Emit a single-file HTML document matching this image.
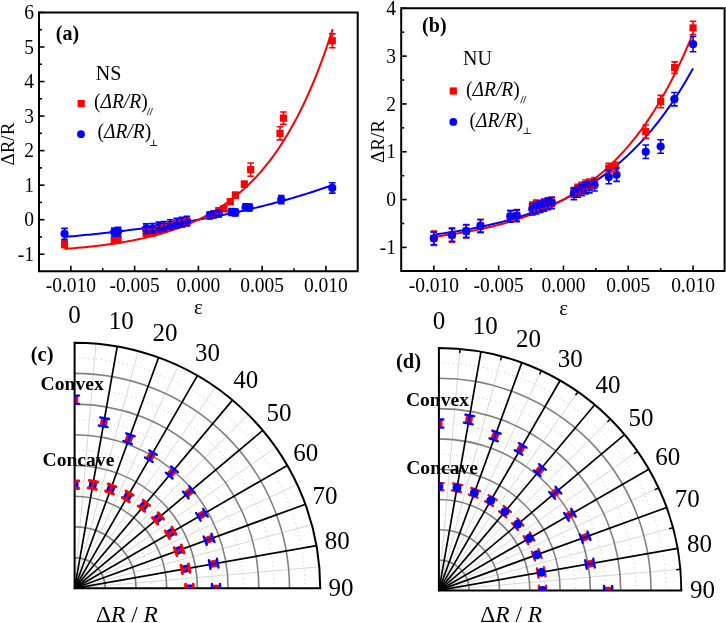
<!DOCTYPE html>
<html><head><meta charset="utf-8"><style>
html,body{margin:0;padding:0;background:#fff;width:726px;height:623px;overflow:hidden}
text{font-family:"Liberation Serif",serif}
svg{will-change:transform}
</style></head><body>
<svg width="726" height="623" viewBox="0 0 726 623" font-family="Liberation Serif" style="position:absolute;left:0;top:0">
<rect width="726" height="623" fill="#fff"/>
<g stroke="#000" stroke-width="1.6" fill="none">
<line x1="39.00" y1="254.24" x2="44.50" y2="254.24"/>
<line x1="39.00" y1="219.70" x2="44.50" y2="219.70"/>
<line x1="39.00" y1="185.16" x2="44.50" y2="185.16"/>
<line x1="39.00" y1="150.62" x2="44.50" y2="150.62"/>
<line x1="39.00" y1="116.08" x2="44.50" y2="116.08"/>
<line x1="39.00" y1="81.54" x2="44.50" y2="81.54"/>
<line x1="39.00" y1="47.00" x2="44.50" y2="47.00"/>
<line x1="39.00" y1="12.46" x2="44.50" y2="12.46"/>
<line x1="39.00" y1="236.97" x2="42.00" y2="236.97"/>
<line x1="39.00" y1="202.43" x2="42.00" y2="202.43"/>
<line x1="39.00" y1="167.89" x2="42.00" y2="167.89"/>
<line x1="39.00" y1="133.35" x2="42.00" y2="133.35"/>
<line x1="39.00" y1="98.81" x2="42.00" y2="98.81"/>
<line x1="39.00" y1="64.27" x2="42.00" y2="64.27"/>
<line x1="39.00" y1="29.73" x2="42.00" y2="29.73"/>
<line x1="70.90" y1="271.20" x2="70.90" y2="265.70"/>
<line x1="134.65" y1="271.20" x2="134.65" y2="265.70"/>
<line x1="198.40" y1="271.20" x2="198.40" y2="265.70"/>
<line x1="262.15" y1="271.20" x2="262.15" y2="265.70"/>
<line x1="325.90" y1="271.20" x2="325.90" y2="265.70"/>
<line x1="102.78" y1="271.20" x2="102.78" y2="268.20"/>
<line x1="166.53" y1="271.20" x2="166.53" y2="268.20"/>
<line x1="230.28" y1="271.20" x2="230.28" y2="268.20"/>
<line x1="294.02" y1="271.20" x2="294.02" y2="268.20"/>
<path d="M39.00 12.60H357.70V271.20H39.00Z" stroke-width="2" stroke-linejoin="miter"/>
<line x1="401.20" y1="247.43" x2="406.70" y2="247.43"/>
<line x1="401.20" y1="199.60" x2="406.70" y2="199.60"/>
<line x1="401.20" y1="151.77" x2="406.70" y2="151.77"/>
<line x1="401.20" y1="103.94" x2="406.70" y2="103.94"/>
<line x1="401.20" y1="56.11" x2="406.70" y2="56.11"/>
<line x1="401.20" y1="8.28" x2="406.70" y2="8.28"/>
<line x1="401.20" y1="223.51" x2="404.20" y2="223.51"/>
<line x1="401.20" y1="175.69" x2="404.20" y2="175.69"/>
<line x1="401.20" y1="127.85" x2="404.20" y2="127.85"/>
<line x1="401.20" y1="80.03" x2="404.20" y2="80.03"/>
<line x1="401.20" y1="32.19" x2="404.20" y2="32.19"/>
<line x1="433.85" y1="271.00" x2="433.85" y2="265.50"/>
<line x1="498.65" y1="271.00" x2="498.65" y2="265.50"/>
<line x1="563.45" y1="271.00" x2="563.45" y2="265.50"/>
<line x1="628.25" y1="271.00" x2="628.25" y2="265.50"/>
<line x1="693.05" y1="271.00" x2="693.05" y2="265.50"/>
<line x1="466.25" y1="271.00" x2="466.25" y2="268.00"/>
<line x1="531.05" y1="271.00" x2="531.05" y2="268.00"/>
<line x1="595.85" y1="271.00" x2="595.85" y2="268.00"/>
<line x1="660.65" y1="271.00" x2="660.65" y2="268.00"/>
<path d="M401.20 8.30H724.60V271.00H401.20Z" stroke-width="2" stroke-linejoin="miter"/>
</g>
<g font-size="19.5" fill="#000">
<text transform="translate(33.9,260.84) scale(1,1.07)" text-anchor="end">-1</text>
<text transform="translate(33.9,226.30) scale(1,1.07)" text-anchor="end">0</text>
<text transform="translate(33.9,191.76) scale(1,1.07)" text-anchor="end">1</text>
<text transform="translate(33.9,157.22) scale(1,1.07)" text-anchor="end">2</text>
<text transform="translate(33.9,122.68) scale(1,1.07)" text-anchor="end">3</text>
<text transform="translate(33.9,88.14) scale(1,1.07)" text-anchor="end">4</text>
<text transform="translate(33.9,53.60) scale(1,1.07)" text-anchor="end">5</text>
<text transform="translate(33.9,19.06) scale(1,1.07)" text-anchor="end">6</text>
<text transform="translate(396.0,254.03) scale(1,1.07)" text-anchor="end">-1</text>
<text transform="translate(396.0,206.20) scale(1,1.07)" text-anchor="end">0</text>
<text transform="translate(396.0,158.37) scale(1,1.07)" text-anchor="end">1</text>
<text transform="translate(396.0,110.54) scale(1,1.07)" text-anchor="end">2</text>
<text transform="translate(396.0,62.71) scale(1,1.07)" text-anchor="end">3</text>
<text transform="translate(396.0,14.88) scale(1,1.07)" text-anchor="end">4</text>
<text transform="translate(70.90,291.6) scale(1,1.07)" text-anchor="middle">-0.010</text>
<text transform="translate(433.85,291.8) scale(1,1.07)" text-anchor="middle">-0.010</text>
<text transform="translate(134.65,291.6) scale(1,1.07)" text-anchor="middle">-0.005</text>
<text transform="translate(498.65,291.8) scale(1,1.07)" text-anchor="middle">-0.005</text>
<text transform="translate(198.40,291.6) scale(1,1.07)" text-anchor="middle">0.000</text>
<text transform="translate(563.45,291.8) scale(1,1.07)" text-anchor="middle">0.000</text>
<text transform="translate(262.15,291.6) scale(1,1.07)" text-anchor="middle">0.005</text>
<text transform="translate(628.25,291.8) scale(1,1.07)" text-anchor="middle">0.005</text>
<text transform="translate(325.90,291.6) scale(1,1.07)" text-anchor="middle">0.010</text>
<text transform="translate(693.05,291.8) scale(1,1.07)" text-anchor="middle">0.010</text>
</g>
<text x="198.3" y="314.2" font-size="21" text-anchor="middle">ε</text>
<text x="563.6" y="314.8" font-size="21" text-anchor="middle">ε</text>
<text transform="translate(14.3,144.1) rotate(-90)" font-size="19" text-anchor="middle">ΔR/R</text>
<text transform="translate(383.7,141.5) rotate(-90)" font-size="19" text-anchor="middle">ΔR/R</text>
<text x="55.8" y="40.2" font-size="20" font-weight="bold">(a)</text>
<text x="422.1" y="31.6" font-size="20" font-weight="bold">(b)</text>
<text x="95.7" y="79.8" font-size="20">NS</text>
<rect x="77.60" y="100.00" width="7.2" height="7.2" fill="#ff0000"/>
<text transform="translate(94.0,107.8) scale(1,1.05)" font-size="19.5">(<tspan font-style="italic">ΔR/R</tspan>)</text>
<path d="M147.20 115.30L149.90 107.90M149.90 115.30L152.60 107.90" stroke="#333" stroke-width="0.9" fill="none"/>
<circle cx="81.00" cy="134.20" r="3.9" fill="#0000ff"/>
<text transform="translate(97.5,138.2) scale(1,1.05)" font-size="19.5">(<tspan font-style="italic">ΔR/R</tspan>)</text>
<path d="M150.20 145.50H157.20M153.70 139.60V145.50" stroke="#222" stroke-width="1" fill="none"/>
<text x="463.1" y="65.0" font-size="20">NU</text>
<rect x="449.70" y="87.40" width="7.2" height="7.2" fill="#ff0000"/>
<text transform="translate(466.1,95.6) scale(1,1.05)" font-size="19.5">(<tspan font-style="italic">ΔR/R</tspan>)</text>
<path d="M520.60 103.20L523.30 95.90M523.30 103.20L526.00 95.90" stroke="#333" stroke-width="0.9" fill="none"/>
<circle cx="453.30" cy="121.90" r="3.9" fill="#0000ff"/>
<text transform="translate(469.5,127.1) scale(1,1.05)" font-size="19.5">(<tspan font-style="italic">ΔR/R</tspan>)</text>
<path d="M523.40 133.50H530.90M527.15 127.60V133.50" stroke="#222" stroke-width="1" fill="none"/>
<polyline fill="none" stroke="#0000ff" stroke-width="2" points="64.53,236.97 66.76,236.77 68.99,236.56 71.22,236.36 73.45,236.15 75.68,235.94 77.91,235.73 80.14,235.51 82.38,235.30 84.61,235.08 86.84,234.85 89.07,234.63 91.30,234.40 93.53,234.17 95.76,233.94 97.99,233.70 100.23,233.46 102.46,233.22 104.69,232.98 106.92,232.73 109.15,232.48 111.38,232.23 113.61,231.97 115.84,231.71 118.07,231.45 120.31,231.19 122.54,230.92 124.77,230.65 127.00,230.37 129.23,230.10 131.46,229.81 133.69,229.53 135.93,229.24 138.16,228.95 140.39,228.66 142.62,228.36 144.85,228.06 147.08,227.76 149.31,227.45 151.54,227.14 153.78,226.82 156.01,226.51 158.24,226.18 160.47,225.86 162.70,225.53 164.93,225.19 167.16,224.86 169.39,224.52 171.62,224.17 173.86,223.82 176.09,223.47 178.32,223.11 180.55,222.75 182.78,222.38 185.01,222.01 187.24,221.64 189.48,221.26 191.71,220.88 193.94,220.49 196.17,220.10 198.40,219.70 200.63,219.30 202.86,218.89 205.09,218.48 207.32,218.07 209.56,217.65 211.79,217.22 214.02,216.79 216.25,216.36 218.48,215.92 220.71,215.47 222.94,215.02 225.18,214.57 227.41,214.10 229.64,213.64 231.87,213.17 234.10,212.69 236.33,212.21 238.56,211.72 240.79,211.22 243.03,210.72 245.26,210.22 247.49,209.71 249.72,209.19 251.95,208.67 254.18,208.14 256.41,207.60 258.64,207.06 260.88,206.51 263.11,205.96 265.34,205.40 267.57,204.83 269.80,204.26 272.03,203.67 274.26,203.09 276.49,202.49 278.72,201.89 280.96,201.28 283.19,200.67 285.42,200.05 287.65,199.42 289.88,198.78 292.11,198.14 294.34,197.48 296.57,196.82 298.81,196.16 301.04,195.48 303.27,194.80 305.50,194.11 307.73,193.41 309.96,192.70 312.19,191.99 314.43,191.27 316.66,190.53 318.89,189.79 321.12,189.05 323.35,188.29 325.58,187.52 327.81,186.75 330.04,185.96 332.27,185.17"/>
<polyline fill="none" stroke="#ff0000" stroke-width="2" points="64.53,248.91 66.76,248.74 68.99,248.57 71.23,248.39 73.46,248.20 75.70,248.01 77.93,247.81 80.17,247.61 82.40,247.40 84.63,247.18 86.87,246.96 89.10,246.73 91.34,246.49 93.57,246.25 95.81,245.99 98.04,245.73 100.28,245.46 102.51,245.18 104.74,244.90 106.98,244.60 109.21,244.30 111.45,243.98 113.68,243.66 115.92,243.32 118.15,242.97 120.39,242.62 122.62,242.25 124.85,241.87 127.09,241.48 129.32,241.07 131.56,240.66 133.79,240.22 136.03,239.78 138.26,239.32 140.50,238.85 142.73,238.36 144.96,237.86 147.20,237.34 149.43,236.80 151.67,236.25 153.90,235.68 156.14,235.09 158.37,234.49 160.61,233.86 162.84,233.22 165.07,232.55 167.31,231.86 169.54,231.15 171.78,230.42 174.01,229.67 176.25,228.89 178.48,228.09 180.72,227.26 182.95,226.40 185.18,225.52 187.42,224.61 189.65,223.67 191.89,222.70 194.12,221.70 196.36,220.67 198.59,219.61 200.83,218.51 203.06,217.38 205.29,216.21 207.53,215.01 209.76,213.76 212.00,212.48 214.23,211.16 216.47,209.79 218.70,208.38 220.94,206.93 223.17,205.43 225.40,203.88 227.64,202.29 229.87,200.64 232.11,198.94 234.34,197.19 236.58,195.38 238.81,193.52 241.05,191.60 243.28,189.61 245.51,187.56 247.75,185.45 249.98,183.27 252.22,181.02 254.45,178.70 256.69,176.31 258.92,173.84 261.16,171.29 263.39,168.66 265.62,165.95 267.86,163.15 270.09,160.27 272.33,157.29 274.56,154.22 276.80,151.05 279.03,147.78 281.27,144.40 283.50,140.92 285.73,137.33 287.97,133.63 290.20,129.81 292.44,125.86 294.67,121.80 296.91,117.60 299.14,113.27 301.38,108.80 303.61,104.20 305.84,99.44 308.08,94.54 310.31,89.48 312.55,84.26 314.78,78.87 317.02,73.31 319.25,67.58 321.49,61.67 323.72,55.56 325.95,49.27 328.19,42.77 330.42,36.07 332.66,29.16"/>
<polyline fill="none" stroke="#0000ff" stroke-width="2" points="433.85,234.65 436.01,234.37 438.17,234.08 440.33,233.78 442.49,233.48 444.65,233.17 446.81,232.85 448.97,232.53 451.13,232.19 453.29,231.86 455.45,231.51 457.61,231.15 459.77,230.79 461.93,230.42 464.09,230.04 466.25,229.66 468.41,229.26 470.57,228.86 472.73,228.44 474.89,228.02 477.05,227.59 479.21,227.15 481.37,226.70 483.53,226.24 485.69,225.77 487.85,225.28 490.01,224.79 492.17,224.29 494.33,223.77 496.49,223.25 498.65,222.71 500.81,222.16 502.97,221.60 505.13,221.02 507.29,220.43 509.45,219.83 511.61,219.22 513.77,218.59 515.93,217.95 518.09,217.30 520.25,216.63 522.41,215.94 524.57,215.24 526.73,214.52 528.89,213.79 531.05,213.04 533.21,212.28 535.37,211.50 537.53,210.70 539.69,209.88 541.85,209.05 544.01,208.19 546.17,207.32 548.33,206.43 550.49,205.51 552.65,204.58 554.81,203.63 556.97,202.65 559.13,201.66 561.29,200.64 563.45,199.60 565.61,198.54 567.77,197.45 569.93,196.34 572.09,195.20 574.25,194.04 576.41,192.85 578.57,191.64 580.73,190.40 582.89,189.13 585.05,187.83 587.21,186.50 589.37,185.15 591.53,183.76 593.69,182.35 595.85,180.90 598.01,179.42 600.17,177.91 602.33,176.36 604.49,174.78 606.65,173.16 608.81,171.51 610.97,169.82 613.13,168.10 615.29,166.33 617.45,164.53 619.61,162.68 621.77,160.80 623.93,158.87 626.09,156.90 628.25,154.89 630.41,152.83 632.57,150.73 634.73,148.58 636.89,146.38 639.05,144.13 641.21,141.83 643.37,139.48 645.53,137.08 647.69,134.63 649.85,132.12 652.01,129.55 654.17,126.93 656.33,124.25 658.49,121.51 660.65,118.71 662.81,115.84 664.97,112.92 667.13,109.93 669.29,106.87 671.45,103.74 673.61,100.54 675.77,97.28 677.93,93.94 680.09,90.52 682.25,87.03 684.41,83.46 686.57,79.82 688.73,76.09 690.89,72.28 693.05,68.38"/>
<polyline fill="none" stroke="#ff0000" stroke-width="2" points="433.85,236.76 436.01,236.49 438.17,236.21 440.33,235.93 442.49,235.64 444.65,235.34 446.81,235.03 448.97,234.72 451.13,234.39 453.29,234.06 455.45,233.73 457.61,233.38 459.77,233.02 461.93,232.66 464.09,232.29 466.25,231.90 468.41,231.51 470.57,231.11 472.73,230.69 474.89,230.27 477.05,229.83 479.21,229.39 481.37,228.93 483.53,228.46 485.69,227.98 487.85,227.49 490.01,226.99 492.17,226.47 494.33,225.94 496.49,225.39 498.65,224.84 500.81,224.26 502.97,223.68 505.13,223.08 507.29,222.46 509.45,221.83 511.61,221.18 513.77,220.52 515.93,219.83 518.09,219.14 520.25,218.42 522.41,217.69 524.57,216.93 526.73,216.16 528.89,215.37 531.05,214.56 533.21,213.72 535.37,212.87 537.53,212.00 539.69,211.10 541.85,210.18 544.01,209.24 546.17,208.27 548.33,207.28 550.49,206.26 552.65,205.22 554.81,204.15 556.97,203.06 559.13,201.93 561.29,200.78 563.45,199.60 565.61,198.39 567.77,197.15 569.93,195.87 572.09,194.57 574.25,193.23 576.41,191.86 578.57,190.45 580.73,189.01 582.89,187.53 585.05,186.02 587.21,184.46 589.37,182.87 591.53,181.23 593.69,179.56 595.85,177.84 598.01,176.08 600.17,174.27 602.33,172.42 604.49,170.52 606.65,168.57 608.81,166.58 610.97,164.53 613.13,162.43 615.29,160.28 617.45,158.07 619.61,155.81 621.77,153.49 623.93,151.11 626.09,148.67 628.25,146.17 630.41,143.61 632.57,140.98 634.73,138.29 636.89,135.52 639.05,132.69 641.21,129.79 643.37,126.81 645.53,123.76 647.69,120.62 649.85,117.41 652.01,114.12 654.17,110.75 656.33,107.29 658.49,103.74 660.65,100.10 662.81,96.37 664.97,92.55 667.13,88.63 669.29,84.61 671.45,80.49 673.61,76.26 675.77,71.93 677.93,67.48 680.09,62.93 682.25,58.26 684.41,53.47 686.57,48.56 688.73,43.53 690.89,38.36 693.05,33.07"/>
<rect x="60.93" y="240.62" width="7.2" height="7.2" fill="#ff0000"/>
<rect x="110.65" y="236.82" width="7.2" height="7.2" fill="#ff0000"/>
<rect x="114.48" y="236.13" width="7.2" height="7.2" fill="#ff0000"/>
<rect x="142.53" y="229.23" width="7.2" height="7.2" fill="#ff0000"/>
<rect x="148.90" y="228.88" width="7.2" height="7.2" fill="#ff0000"/>
<rect x="155.28" y="226.12" width="7.2" height="7.2" fill="#ff0000"/>
<rect x="160.38" y="224.73" width="7.2" height="7.2" fill="#ff0000"/>
<rect x="166.75" y="222.66" width="7.2" height="7.2" fill="#ff0000"/>
<rect x="173.13" y="220.94" width="7.2" height="7.2" fill="#ff0000"/>
<rect x="178.23" y="219.55" width="7.2" height="7.2" fill="#ff0000"/>
<rect x="183.33" y="218.17" width="7.2" height="7.2" fill="#ff0000"/>
<rect x="206.28" y="211.61" width="7.2" height="7.2" fill="#ff0000"/>
<rect x="210.10" y="210.57" width="7.2" height="7.2" fill="#ff0000"/>
<rect x="215.20" y="207.12" width="7.2" height="7.2" fill="#ff0000"/>
<rect x="220.30" y="205.05" width="7.2" height="7.2" fill="#ff0000"/>
<rect x="226.68" y="198.14" width="7.2" height="7.2" fill="#ff0000"/>
<rect x="231.78" y="191.58" width="7.2" height="7.2" fill="#ff0000"/>
<rect x="240.70" y="180.52" width="7.2" height="7.2" fill="#ff0000"/>
<rect x="247.08" y="166.02" width="7.2" height="7.2" fill="#ff0000"/>
<rect x="276.40" y="129.75" width="7.2" height="7.2" fill="#ff0000"/>
<rect x="279.84" y="114.55" width="7.2" height="7.2" fill="#ff0000"/>
<rect x="328.67" y="37.18" width="7.2" height="7.2" fill="#ff0000"/>
<circle cx="64.53" cy="233.86" r="4.1" fill="#0000ff"/>
<circle cx="114.25" cy="232.13" r="4.1" fill="#0000ff"/>
<circle cx="118.08" cy="231.44" r="4.1" fill="#0000ff"/>
<circle cx="146.12" cy="228.68" r="4.1" fill="#0000ff"/>
<circle cx="152.50" cy="228.33" r="4.1" fill="#0000ff"/>
<circle cx="158.88" cy="226.95" r="4.1" fill="#0000ff"/>
<circle cx="163.97" cy="226.26" r="4.1" fill="#0000ff"/>
<circle cx="170.35" cy="224.54" r="4.1" fill="#0000ff"/>
<circle cx="176.73" cy="223.15" r="4.1" fill="#0000ff"/>
<circle cx="181.83" cy="222.12" r="4.1" fill="#0000ff"/>
<circle cx="186.93" cy="221.08" r="4.1" fill="#0000ff"/>
<circle cx="209.88" cy="215.56" r="4.1" fill="#0000ff"/>
<circle cx="213.70" cy="214.52" r="4.1" fill="#0000ff"/>
<circle cx="218.80" cy="213.48" r="4.1" fill="#0000ff"/>
<circle cx="231.55" cy="212.10" r="4.1" fill="#0000ff"/>
<circle cx="235.38" cy="212.45" r="4.1" fill="#0000ff"/>
<circle cx="245.57" cy="207.27" r="4.1" fill="#0000ff"/>
<circle cx="249.40" cy="207.61" r="4.1" fill="#0000ff"/>
<circle cx="281.27" cy="199.67" r="4.1" fill="#0000ff"/>
<circle cx="332.27" cy="187.92" r="4.1" fill="#0000ff"/>
<path d="M64.53 240.77V247.68M61.23 240.77h6.6M61.23 247.68h6.6" stroke="#ff0000" stroke-width="1.6" fill="none"/>
<path d="M114.25 237.32V243.53M110.95 237.32h6.6M110.95 243.53h6.6" stroke="#ff0000" stroke-width="1.6" fill="none"/>
<path d="M118.08 236.62V242.84M114.78 236.62h6.6M114.78 242.84h6.6" stroke="#ff0000" stroke-width="1.6" fill="none"/>
<path d="M146.12 229.37V236.28M142.82 229.37h6.6M142.82 236.28h6.6" stroke="#ff0000" stroke-width="1.6" fill="none"/>
<path d="M152.50 229.03V235.93M149.20 229.03h6.6M149.20 235.93h6.6" stroke="#ff0000" stroke-width="1.6" fill="none"/>
<path d="M158.88 226.26V233.17M155.57 226.26h6.6M155.57 233.17h6.6" stroke="#ff0000" stroke-width="1.6" fill="none"/>
<path d="M163.97 224.88V231.79M160.67 224.88h6.6M160.67 231.79h6.6" stroke="#ff0000" stroke-width="1.6" fill="none"/>
<path d="M170.35 222.81V229.72M167.05 222.81h6.6M167.05 229.72h6.6" stroke="#ff0000" stroke-width="1.6" fill="none"/>
<path d="M176.73 221.08V227.99M173.43 221.08h6.6M173.43 227.99h6.6" stroke="#ff0000" stroke-width="1.6" fill="none"/>
<path d="M181.83 219.70V226.61M178.53 219.70h6.6M178.53 226.61h6.6" stroke="#ff0000" stroke-width="1.6" fill="none"/>
<path d="M186.93 218.32V225.23M183.62 218.32h6.6M183.62 225.23h6.6" stroke="#ff0000" stroke-width="1.6" fill="none"/>
<path d="M209.88 212.45V217.97M206.57 212.45h6.6M206.57 217.97h6.6" stroke="#ff0000" stroke-width="1.6" fill="none"/>
<path d="M213.70 211.41V216.94M210.40 211.41h6.6M210.40 216.94h6.6" stroke="#ff0000" stroke-width="1.6" fill="none"/>
<path d="M218.80 207.96V213.48M215.50 207.96h6.6M215.50 213.48h6.6" stroke="#ff0000" stroke-width="1.6" fill="none"/>
<path d="M223.90 205.88V211.41M220.60 205.88h6.6M220.60 211.41h6.6" stroke="#ff0000" stroke-width="1.6" fill="none"/>
<path d="M230.28 198.98V204.50M226.97 198.98h6.6M226.97 204.50h6.6" stroke="#ff0000" stroke-width="1.6" fill="none"/>
<path d="M235.38 192.41V197.94M232.07 192.41h6.6M232.07 197.94h6.6" stroke="#ff0000" stroke-width="1.6" fill="none"/>
<path d="M244.30 181.36V186.89M241.00 181.36h6.6M241.00 186.89h6.6" stroke="#ff0000" stroke-width="1.6" fill="none"/>
<path d="M250.68 163.05V176.18M247.38 163.05h6.6M247.38 176.18h6.6" stroke="#ff0000" stroke-width="1.6" fill="none"/>
<path d="M280.00 126.79V139.91M276.70 126.79h6.6M276.70 139.91h6.6" stroke="#ff0000" stroke-width="1.6" fill="none"/>
<path d="M283.44 111.94V124.37M280.14 111.94h6.6M280.14 124.37h6.6" stroke="#ff0000" stroke-width="1.6" fill="none"/>
<path d="M332.27 33.87V47.69M328.97 33.87h6.6M328.97 47.69h6.6" stroke="#ff0000" stroke-width="1.6" fill="none"/>
<path d="M64.53 228.33V239.39M61.23 228.33h6.6M61.23 239.39h6.6" stroke="#0000ff" stroke-width="1.6" fill="none"/>
<path d="M114.25 227.99V236.28M110.95 227.99h6.6M110.95 236.28h6.6" stroke="#0000ff" stroke-width="1.6" fill="none"/>
<path d="M118.08 227.30V235.59M114.78 227.30h6.6M114.78 235.59h6.6" stroke="#0000ff" stroke-width="1.6" fill="none"/>
<path d="M146.12 223.84V233.52M142.82 223.84h6.6M142.82 233.52h6.6" stroke="#0000ff" stroke-width="1.6" fill="none"/>
<path d="M152.50 223.50V233.17M149.20 223.50h6.6M149.20 233.17h6.6" stroke="#0000ff" stroke-width="1.6" fill="none"/>
<path d="M158.88 222.12V231.79M155.57 222.12h6.6M155.57 231.79h6.6" stroke="#0000ff" stroke-width="1.6" fill="none"/>
<path d="M163.97 221.43V231.10M160.67 221.43h6.6M160.67 231.10h6.6" stroke="#0000ff" stroke-width="1.6" fill="none"/>
<path d="M170.35 219.70V229.37M167.05 219.70h6.6M167.05 229.37h6.6" stroke="#0000ff" stroke-width="1.6" fill="none"/>
<path d="M176.73 218.32V227.99M173.43 218.32h6.6M173.43 227.99h6.6" stroke="#0000ff" stroke-width="1.6" fill="none"/>
<path d="M181.83 217.28V226.95M178.53 217.28h6.6M178.53 226.95h6.6" stroke="#0000ff" stroke-width="1.6" fill="none"/>
<path d="M186.93 216.25V225.92M183.62 216.25h6.6M183.62 225.92h6.6" stroke="#0000ff" stroke-width="1.6" fill="none"/>
<path d="M209.88 212.10V219.01M206.57 212.10h6.6M206.57 219.01h6.6" stroke="#0000ff" stroke-width="1.6" fill="none"/>
<path d="M213.70 211.06V217.97M210.40 211.06h6.6M210.40 217.97h6.6" stroke="#0000ff" stroke-width="1.6" fill="none"/>
<path d="M218.80 210.03V216.94M215.50 210.03h6.6M215.50 216.94h6.6" stroke="#0000ff" stroke-width="1.6" fill="none"/>
<path d="M231.55 208.65V215.56M228.25 208.65h6.6M228.25 215.56h6.6" stroke="#0000ff" stroke-width="1.6" fill="none"/>
<path d="M235.38 208.99V215.90M232.07 208.99h6.6M232.07 215.90h6.6" stroke="#0000ff" stroke-width="1.6" fill="none"/>
<path d="M245.57 203.81V210.72M242.27 203.81h6.6M242.27 210.72h6.6" stroke="#0000ff" stroke-width="1.6" fill="none"/>
<path d="M249.40 204.16V211.06M246.10 204.16h6.6M246.10 211.06h6.6" stroke="#0000ff" stroke-width="1.6" fill="none"/>
<path d="M281.27 195.52V203.81M277.97 195.52h6.6M277.97 203.81h6.6" stroke="#0000ff" stroke-width="1.6" fill="none"/>
<path d="M332.27 182.74V193.10M328.97 182.74h6.6M328.97 193.10h6.6" stroke="#0000ff" stroke-width="1.6" fill="none"/>
<rect x="430.25" y="234.74" width="7.2" height="7.2" fill="#ff0000"/>
<rect x="448.39" y="231.39" width="7.2" height="7.2" fill="#ff0000"/>
<rect x="462.65" y="227.57" width="7.2" height="7.2" fill="#ff0000"/>
<rect x="476.91" y="222.31" width="7.2" height="7.2" fill="#ff0000"/>
<rect x="506.71" y="212.74" width="7.2" height="7.2" fill="#ff0000"/>
<rect x="513.19" y="211.78" width="7.2" height="7.2" fill="#ff0000"/>
<rect x="528.75" y="203.17" width="7.2" height="7.2" fill="#ff0000"/>
<rect x="532.63" y="201.26" width="7.2" height="7.2" fill="#ff0000"/>
<rect x="536.52" y="202.22" width="7.2" height="7.2" fill="#ff0000"/>
<rect x="540.41" y="200.30" width="7.2" height="7.2" fill="#ff0000"/>
<rect x="544.30" y="199.35" width="7.2" height="7.2" fill="#ff0000"/>
<rect x="548.19" y="198.39" width="7.2" height="7.2" fill="#ff0000"/>
<rect x="570.22" y="188.83" width="7.2" height="7.2" fill="#ff0000"/>
<rect x="574.11" y="185.48" width="7.2" height="7.2" fill="#ff0000"/>
<rect x="577.99" y="183.56" width="7.2" height="7.2" fill="#ff0000"/>
<rect x="581.88" y="181.17" width="7.2" height="7.2" fill="#ff0000"/>
<rect x="585.77" y="180.22" width="7.2" height="7.2" fill="#ff0000"/>
<rect x="590.95" y="178.78" width="7.2" height="7.2" fill="#ff0000"/>
<rect x="605.21" y="164.43" width="7.2" height="7.2" fill="#ff0000"/>
<rect x="611.69" y="163.48" width="7.2" height="7.2" fill="#ff0000"/>
<rect x="642.15" y="128.08" width="7.2" height="7.2" fill="#ff0000"/>
<rect x="657.05" y="97.95" width="7.2" height="7.2" fill="#ff0000"/>
<rect x="671.05" y="63.99" width="7.2" height="7.2" fill="#ff0000"/>
<rect x="689.45" y="24.29" width="7.2" height="7.2" fill="#ff0000"/>
<circle cx="433.85" cy="238.34" r="4.1" fill="#0000ff"/>
<circle cx="451.99" cy="234.99" r="4.1" fill="#0000ff"/>
<circle cx="466.25" cy="231.17" r="4.1" fill="#0000ff"/>
<circle cx="480.51" cy="225.91" r="4.1" fill="#0000ff"/>
<circle cx="510.31" cy="216.34" r="4.1" fill="#0000ff"/>
<circle cx="516.79" cy="215.86" r="4.1" fill="#0000ff"/>
<circle cx="532.35" cy="209.17" r="4.1" fill="#0000ff"/>
<circle cx="536.23" cy="208.21" r="4.1" fill="#0000ff"/>
<circle cx="540.12" cy="206.77" r="4.1" fill="#0000ff"/>
<circle cx="544.01" cy="205.34" r="4.1" fill="#0000ff"/>
<circle cx="547.90" cy="203.90" r="4.1" fill="#0000ff"/>
<circle cx="551.79" cy="202.95" r="4.1" fill="#0000ff"/>
<circle cx="573.82" cy="193.86" r="4.1" fill="#0000ff"/>
<circle cx="577.71" cy="191.47" r="4.1" fill="#0000ff"/>
<circle cx="581.59" cy="190.03" r="4.1" fill="#0000ff"/>
<circle cx="585.48" cy="188.12" r="4.1" fill="#0000ff"/>
<circle cx="589.37" cy="187.16" r="4.1" fill="#0000ff"/>
<circle cx="594.55" cy="185.25" r="4.1" fill="#0000ff"/>
<circle cx="608.81" cy="177.12" r="4.1" fill="#0000ff"/>
<circle cx="616.59" cy="174.73" r="4.1" fill="#0000ff"/>
<circle cx="645.75" cy="151.77" r="4.1" fill="#0000ff"/>
<circle cx="660.65" cy="146.51" r="4.1" fill="#0000ff"/>
<circle cx="674.39" cy="99.16" r="4.1" fill="#0000ff"/>
<circle cx="693.05" cy="44.15" r="4.1" fill="#0000ff"/>
<path d="M433.85 231.17V245.52M430.55 231.17h6.6M430.55 245.52h6.6" stroke="#ff0000" stroke-width="1.6" fill="none"/>
<path d="M451.99 227.82V242.17M448.69 227.82h6.6M448.69 242.17h6.6" stroke="#ff0000" stroke-width="1.6" fill="none"/>
<path d="M466.25 224.47V237.86M462.95 224.47h6.6M462.95 237.86h6.6" stroke="#ff0000" stroke-width="1.6" fill="none"/>
<path d="M480.51 219.21V232.60M477.21 219.21h6.6M477.21 232.60h6.6" stroke="#ff0000" stroke-width="1.6" fill="none"/>
<path d="M510.31 210.60V222.08M507.01 210.60h6.6M507.01 222.08h6.6" stroke="#ff0000" stroke-width="1.6" fill="none"/>
<path d="M516.79 209.64V221.12M513.49 209.64h6.6M513.49 221.12h6.6" stroke="#ff0000" stroke-width="1.6" fill="none"/>
<path d="M532.35 201.99V211.56M529.05 201.99h6.6M529.05 211.56h6.6" stroke="#ff0000" stroke-width="1.6" fill="none"/>
<path d="M536.23 200.08V209.64M532.93 200.08h6.6M532.93 209.64h6.6" stroke="#ff0000" stroke-width="1.6" fill="none"/>
<path d="M540.12 201.03V210.60M536.82 201.03h6.6M536.82 210.60h6.6" stroke="#ff0000" stroke-width="1.6" fill="none"/>
<path d="M544.01 199.12V208.69M540.71 199.12h6.6M540.71 208.69h6.6" stroke="#ff0000" stroke-width="1.6" fill="none"/>
<path d="M547.90 198.17V207.73M544.60 198.17h6.6M544.60 207.73h6.6" stroke="#ff0000" stroke-width="1.6" fill="none"/>
<path d="M551.79 197.21V206.77M548.49 197.21h6.6M548.49 206.77h6.6" stroke="#ff0000" stroke-width="1.6" fill="none"/>
<path d="M573.82 187.64V197.21M570.52 187.64h6.6M570.52 197.21h6.6" stroke="#ff0000" stroke-width="1.6" fill="none"/>
<path d="M577.71 184.29V193.86M574.41 184.29h6.6M574.41 193.86h6.6" stroke="#ff0000" stroke-width="1.6" fill="none"/>
<path d="M581.59 182.38V191.95M578.29 182.38h6.6M578.29 191.95h6.6" stroke="#ff0000" stroke-width="1.6" fill="none"/>
<path d="M585.48 179.99V189.56M582.18 179.99h6.6M582.18 189.56h6.6" stroke="#ff0000" stroke-width="1.6" fill="none"/>
<path d="M589.37 179.03V188.60M586.07 179.03h6.6M586.07 188.60h6.6" stroke="#ff0000" stroke-width="1.6" fill="none"/>
<path d="M594.55 177.60V187.16M591.25 177.60h6.6M591.25 187.16h6.6" stroke="#ff0000" stroke-width="1.6" fill="none"/>
<path d="M608.81 163.25V172.82M605.51 163.25h6.6M605.51 172.82h6.6" stroke="#ff0000" stroke-width="1.6" fill="none"/>
<path d="M615.29 162.29V171.86M611.99 162.29h6.6M611.99 171.86h6.6" stroke="#ff0000" stroke-width="1.6" fill="none"/>
<path d="M645.75 124.99V138.38M642.45 124.99h6.6M642.45 138.38h6.6" stroke="#ff0000" stroke-width="1.6" fill="none"/>
<path d="M660.65 95.33V107.77M657.35 95.33h6.6M657.35 107.77h6.6" stroke="#ff0000" stroke-width="1.6" fill="none"/>
<path d="M674.65 61.85V73.33M671.35 61.85h6.6M671.35 73.33h6.6" stroke="#ff0000" stroke-width="1.6" fill="none"/>
<path d="M693.05 21.19V34.59M689.75 21.19h6.6M689.75 34.59h6.6" stroke="#ff0000" stroke-width="1.6" fill="none"/>
<path d="M433.85 232.12V244.56M430.55 232.12h6.6M430.55 244.56h6.6" stroke="#0000ff" stroke-width="1.6" fill="none"/>
<path d="M451.99 228.78V241.21M448.69 228.78h6.6M448.69 241.21h6.6" stroke="#0000ff" stroke-width="1.6" fill="none"/>
<path d="M466.25 224.95V237.39M462.95 224.95h6.6M462.95 237.39h6.6" stroke="#0000ff" stroke-width="1.6" fill="none"/>
<path d="M480.51 219.69V232.12M477.21 219.69h6.6M477.21 232.12h6.6" stroke="#0000ff" stroke-width="1.6" fill="none"/>
<path d="M510.31 210.60V222.08M507.01 210.60h6.6M507.01 222.08h6.6" stroke="#0000ff" stroke-width="1.6" fill="none"/>
<path d="M516.79 210.12V221.60M513.49 210.12h6.6M513.49 221.60h6.6" stroke="#0000ff" stroke-width="1.6" fill="none"/>
<path d="M532.35 203.43V214.91M529.05 203.43h6.6M529.05 214.91h6.6" stroke="#0000ff" stroke-width="1.6" fill="none"/>
<path d="M536.23 202.47V213.95M532.93 202.47h6.6M532.93 213.95h6.6" stroke="#0000ff" stroke-width="1.6" fill="none"/>
<path d="M540.12 201.03V212.51M536.82 201.03h6.6M536.82 212.51h6.6" stroke="#0000ff" stroke-width="1.6" fill="none"/>
<path d="M544.01 199.60V211.08M540.71 199.60h6.6M540.71 211.08h6.6" stroke="#0000ff" stroke-width="1.6" fill="none"/>
<path d="M547.90 198.17V209.64M544.60 198.17h6.6M544.60 209.64h6.6" stroke="#0000ff" stroke-width="1.6" fill="none"/>
<path d="M551.79 197.21V208.69M548.49 197.21h6.6M548.49 208.69h6.6" stroke="#0000ff" stroke-width="1.6" fill="none"/>
<path d="M573.82 188.12V199.60M570.52 188.12h6.6M570.52 199.60h6.6" stroke="#0000ff" stroke-width="1.6" fill="none"/>
<path d="M577.71 185.73V197.21M574.41 185.73h6.6M574.41 197.21h6.6" stroke="#0000ff" stroke-width="1.6" fill="none"/>
<path d="M581.59 184.29V195.77M578.29 184.29h6.6M578.29 195.77h6.6" stroke="#0000ff" stroke-width="1.6" fill="none"/>
<path d="M585.48 182.38V193.86M582.18 182.38h6.6M582.18 193.86h6.6" stroke="#0000ff" stroke-width="1.6" fill="none"/>
<path d="M589.37 181.42V192.90M586.07 181.42h6.6M586.07 192.90h6.6" stroke="#0000ff" stroke-width="1.6" fill="none"/>
<path d="M594.55 179.51V190.99M591.25 179.51h6.6M591.25 190.99h6.6" stroke="#0000ff" stroke-width="1.6" fill="none"/>
<path d="M608.81 170.42V183.82M605.51 170.42h6.6M605.51 183.82h6.6" stroke="#0000ff" stroke-width="1.6" fill="none"/>
<path d="M616.59 168.03V181.42M613.29 168.03h6.6M613.29 181.42h6.6" stroke="#0000ff" stroke-width="1.6" fill="none"/>
<path d="M645.75 145.07V158.47M642.45 145.07h6.6M642.45 158.47h6.6" stroke="#0000ff" stroke-width="1.6" fill="none"/>
<path d="M660.65 139.81V153.20M657.35 139.81h6.6M657.35 153.20h6.6" stroke="#0000ff" stroke-width="1.6" fill="none"/>
<path d="M674.39 92.46V105.85M671.09 92.46h6.6M671.09 105.85h6.6" stroke="#0000ff" stroke-width="1.6" fill="none"/>
<path d="M693.05 36.50V51.81M689.75 36.50h6.6M689.75 51.81h6.6" stroke="#0000ff" stroke-width="1.6" fill="none"/>
<line x1="74.60" y1="588.30" x2="96.01" y2="343.63" stroke="#d4d4d4" stroke-width="0.9"/>
<line x1="74.60" y1="588.30" x2="138.17" y2="351.07" stroke="#d4d4d4" stroke-width="0.9"/>
<line x1="74.60" y1="588.30" x2="178.40" y2="365.71" stroke="#d4d4d4" stroke-width="0.9"/>
<line x1="74.60" y1="588.30" x2="215.47" y2="387.12" stroke="#d4d4d4" stroke-width="0.9"/>
<line x1="74.60" y1="588.30" x2="248.27" y2="414.63" stroke="#d4d4d4" stroke-width="0.9"/>
<line x1="74.60" y1="588.30" x2="275.78" y2="447.43" stroke="#d4d4d4" stroke-width="0.9"/>
<line x1="74.60" y1="588.30" x2="297.19" y2="484.50" stroke="#d4d4d4" stroke-width="0.9"/>
<line x1="74.60" y1="588.30" x2="311.83" y2="524.73" stroke="#d4d4d4" stroke-width="0.9"/>
<line x1="74.60" y1="588.30" x2="319.27" y2="566.89" stroke="#d4d4d4" stroke-width="0.9"/>
<path d="M74.60 572.95A15.35 15.35 0 0 1 89.95 588.30" stroke="#c8c8c8" stroke-width="1" stroke-dasharray="1.2 3.2" fill="none"/>
<path d="M74.60 542.25A46.05 46.05 0 0 1 120.65 588.30" stroke="#c8c8c8" stroke-width="1" stroke-dasharray="1.2 3.2" fill="none"/>
<path d="M74.60 511.55A76.75 76.75 0 0 1 151.35 588.30" stroke="#c8c8c8" stroke-width="1" stroke-dasharray="1.2 3.2" fill="none"/>
<path d="M74.60 480.85A107.45 107.45 0 0 1 182.05 588.30" stroke="#c8c8c8" stroke-width="1" stroke-dasharray="1.2 3.2" fill="none"/>
<path d="M74.60 450.15A138.15 138.15 0 0 1 212.75 588.30" stroke="#c8c8c8" stroke-width="1" stroke-dasharray="1.2 3.2" fill="none"/>
<path d="M74.60 419.45A168.85 168.85 0 0 1 243.45 588.30" stroke="#c8c8c8" stroke-width="1" stroke-dasharray="1.2 3.2" fill="none"/>
<path d="M74.60 388.75A199.55 199.55 0 0 1 274.15 588.30" stroke="#c8c8c8" stroke-width="1" stroke-dasharray="1.2 3.2" fill="none"/>
<path d="M74.60 358.05A230.25 230.25 0 0 1 304.85 588.30" stroke="#c8c8c8" stroke-width="1" stroke-dasharray="1.2 3.2" fill="none"/>
<path d="M74.60 557.60A30.70 30.70 0 0 1 105.30 588.30" stroke="#808080" stroke-width="1.6" fill="none"/>
<path d="M74.60 526.90A61.40 61.40 0 0 1 136.00 588.30" stroke="#808080" stroke-width="1.6" fill="none"/>
<path d="M74.60 496.20A92.10 92.10 0 0 1 166.70 588.30" stroke="#808080" stroke-width="1.6" fill="none"/>
<path d="M74.60 465.50A122.80 122.80 0 0 1 197.40 588.30" stroke="#808080" stroke-width="1.6" fill="none"/>
<path d="M74.60 434.80A153.50 153.50 0 0 1 228.10 588.30" stroke="#808080" stroke-width="1.6" fill="none"/>
<path d="M74.60 404.10A184.20 184.20 0 0 1 258.80 588.30" stroke="#808080" stroke-width="1.6" fill="none"/>
<path d="M74.60 373.40A214.90 214.90 0 0 1 289.50 588.30" stroke="#808080" stroke-width="1.6" fill="none"/>
<line x1="74.60" y1="588.30" x2="117.25" y2="346.43" stroke="#000" stroke-width="1.7"/>
<line x1="74.60" y1="588.30" x2="158.60" y2="357.51" stroke="#000" stroke-width="1.7"/>
<line x1="74.60" y1="588.30" x2="197.40" y2="375.60" stroke="#000" stroke-width="1.7"/>
<line x1="74.60" y1="588.30" x2="232.47" y2="400.16" stroke="#000" stroke-width="1.7"/>
<line x1="74.60" y1="588.30" x2="262.74" y2="430.43" stroke="#000" stroke-width="1.7"/>
<line x1="74.60" y1="588.30" x2="287.30" y2="465.50" stroke="#000" stroke-width="1.7"/>
<line x1="74.60" y1="588.30" x2="305.39" y2="504.30" stroke="#000" stroke-width="1.7"/>
<line x1="74.60" y1="588.30" x2="316.47" y2="545.65" stroke="#000" stroke-width="1.7"/>
<path d="M74.60 588.30V342.70A245.60 245.60 0 0 1 320.20 588.30Z" stroke="#000" stroke-width="2" fill="none"/>
<text transform="translate(74.60,322.60) scale(1,1.04)" font-size="25" text-anchor="middle">0</text>
<text transform="translate(121.20,329.10) scale(1,1.04)" font-size="25" text-anchor="middle">10</text>
<text transform="translate(165.10,341.00) scale(1,1.04)" font-size="25" text-anchor="middle">20</text>
<text transform="translate(207.40,361.10) scale(1,1.04)" font-size="25" text-anchor="middle">30</text>
<text transform="translate(245.70,388.10) scale(1,1.04)" font-size="25" text-anchor="middle">40</text>
<text transform="translate(279.00,420.80) scale(1,1.04)" font-size="25" text-anchor="middle">50</text>
<text transform="translate(305.80,460.70) scale(1,1.04)" font-size="25" text-anchor="middle">60</text>
<text transform="translate(325.10,503.50) scale(1,1.04)" font-size="25" text-anchor="middle">70</text>
<text transform="translate(337.30,549.20) scale(1,1.04)" font-size="25" text-anchor="middle">80</text>
<text transform="translate(341.00,595.80) scale(1,1.04)" font-size="25" text-anchor="middle">90</text>
<clipPath id="clc"><path d="M74.6 588.3V342.69999999999993A245.6 245.6 0 0 1 320.2 588.3Z"/></clipPath>
<g clip-path="url(#clc)">
<g transform="translate(74.60,484.70) rotate(0)"><rect x="-3.9" y="-3.9" width="7.8" height="7.8" rx="1.2" fill="#0000ff"/><path d="M0 -3.8V3.8" stroke="#ff0000" stroke-width="2.6"/><path d="M-4.2 -3.8h8.4M-4.2 3.8h8.4" stroke="#ff0000" stroke-width="2.9" stroke-linecap="round"/></g>
<g transform="translate(92.83,484.90) rotate(10)"><rect x="-3.9" y="-3.9" width="7.8" height="7.8" rx="1.2" fill="#0000ff"/><path d="M0 -3.8V3.8" stroke="#ff0000" stroke-width="2.6"/><path d="M-4.2 -3.8h8.4M-4.2 3.8h8.4" stroke="#ff0000" stroke-width="2.9" stroke-linecap="round"/></g>
<g transform="translate(110.79,488.88) rotate(20)"><rect x="-3.9" y="-3.9" width="7.8" height="7.8" rx="1.2" fill="#0000ff"/><path d="M0 -3.8V3.8" stroke="#ff0000" stroke-width="2.6"/><path d="M-4.2 -3.8h8.4M-4.2 3.8h8.4" stroke="#ff0000" stroke-width="2.9" stroke-linecap="round"/></g>
<g transform="translate(127.70,496.33) rotate(30)"><rect x="-3.9" y="-3.9" width="7.8" height="7.8" rx="1.2" fill="#0000ff"/><path d="M0 -3.8V3.8" stroke="#ff0000" stroke-width="2.6"/><path d="M-4.2 -3.8h8.4M-4.2 3.8h8.4" stroke="#ff0000" stroke-width="2.9" stroke-linecap="round"/></g>
<g transform="translate(143.89,505.72) rotate(40)"><rect x="-3.9" y="-3.9" width="7.8" height="7.8" rx="1.2" fill="#0000ff"/><path d="M0 -3.8V3.8" stroke="#ff0000" stroke-width="2.6"/><path d="M-4.2 -3.8h8.4M-4.2 3.8h8.4" stroke="#ff0000" stroke-width="2.9" stroke-linecap="round"/></g>
<g transform="translate(157.95,518.36) rotate(50)"><rect x="-3.9" y="-3.9" width="7.8" height="7.8" rx="1.2" fill="#0000ff"/><path d="M0 -3.8V3.8" stroke="#ff0000" stroke-width="2.6"/><path d="M-4.2 -3.8h8.4M-4.2 3.8h8.4" stroke="#ff0000" stroke-width="2.9" stroke-linecap="round"/></g>
<g transform="translate(170.64,532.85) rotate(60)"><rect x="-3.9" y="-3.9" width="7.8" height="7.8" rx="1.2" fill="#0000ff"/><path d="M0 -3.8V3.8" stroke="#ff0000" stroke-width="2.6"/><path d="M-4.2 -3.8h8.4M-4.2 3.8h8.4" stroke="#ff0000" stroke-width="2.9" stroke-linecap="round"/></g>
<g transform="translate(179.09,550.27) rotate(70)"><rect x="-3.9" y="-3.9" width="7.8" height="7.8" rx="1.2" fill="#0000ff"/><path d="M0 -3.8V3.8" stroke="#ff0000" stroke-width="2.6"/><path d="M-4.2 -3.8h8.4M-4.2 3.8h8.4" stroke="#ff0000" stroke-width="2.9" stroke-linecap="round"/></g>
<g transform="translate(185.49,568.75) rotate(80)"><rect x="-3.9" y="-3.9" width="7.8" height="7.8" rx="1.2" fill="#0000ff"/><path d="M0 -3.8V3.8" stroke="#ff0000" stroke-width="2.6"/><path d="M-4.2 -3.8h8.4M-4.2 3.8h8.4" stroke="#ff0000" stroke-width="2.9" stroke-linecap="round"/></g>
<g transform="translate(189.40,588.30) rotate(90)"><rect x="-3.9" y="-3.9" width="7.8" height="7.8" rx="1.2" fill="#0000ff"/><path d="M0 -3.8V3.8" stroke="#ff0000" stroke-width="2.6"/><path d="M-4.2 -3.8h8.4M-4.2 3.8h8.4" stroke="#ff0000" stroke-width="2.9" stroke-linecap="round"/></g>
<g transform="translate(74.60,399.70) rotate(0)"><rect x="-3.6" y="-3.6" width="7.2" height="7.2" fill="#ff0000"/><path d="M0 -4.1V4.1" stroke="#0000ff" stroke-width="2.3"/><path d="M-4.5 -4.1h9.0M-4.5 4.1h9.0" stroke="#0000ff" stroke-width="2.3" stroke-linecap="round"/></g>
<g transform="translate(103.88,422.26) rotate(10)"><rect x="-3.6" y="-3.6" width="7.2" height="7.2" fill="#ff0000"/><path d="M0 -4.1V4.1" stroke="#0000ff" stroke-width="2.3"/><path d="M-4.5 -4.1h9.0M-4.5 4.1h9.0" stroke="#0000ff" stroke-width="2.3" stroke-linecap="round"/></g>
<g transform="translate(129.05,438.70) rotate(20)"><rect x="-3.6" y="-3.6" width="7.2" height="7.2" fill="#ff0000"/><path d="M0 -4.1V4.1" stroke="#0000ff" stroke-width="2.3"/><path d="M-4.5 -4.1h9.0M-4.5 4.1h9.0" stroke="#0000ff" stroke-width="2.3" stroke-linecap="round"/></g>
<g transform="translate(150.90,456.14) rotate(30)"><rect x="-3.6" y="-3.6" width="7.2" height="7.2" fill="#ff0000"/><path d="M0 -4.1V4.1" stroke="#0000ff" stroke-width="2.3"/><path d="M-4.5 -4.1h9.0M-4.5 4.1h9.0" stroke="#0000ff" stroke-width="2.3" stroke-linecap="round"/></g>
<g transform="translate(171.79,472.47) rotate(40)"><rect x="-3.6" y="-3.6" width="7.2" height="7.2" fill="#ff0000"/><path d="M0 -4.1V4.1" stroke="#0000ff" stroke-width="2.3"/><path d="M-4.5 -4.1h9.0M-4.5 4.1h9.0" stroke="#0000ff" stroke-width="2.3" stroke-linecap="round"/></g>
<g transform="translate(188.97,492.33) rotate(50)"><rect x="-3.6" y="-3.6" width="7.2" height="7.2" fill="#ff0000"/><path d="M0 -4.1V4.1" stroke="#0000ff" stroke-width="2.3"/><path d="M-4.5 -4.1h9.0M-4.5 4.1h9.0" stroke="#0000ff" stroke-width="2.3" stroke-linecap="round"/></g>
<g transform="translate(201.91,514.80) rotate(60)"><rect x="-3.6" y="-3.6" width="7.2" height="7.2" fill="#ff0000"/><path d="M0 -4.1V4.1" stroke="#0000ff" stroke-width="2.3"/><path d="M-4.5 -4.1h9.0M-4.5 4.1h9.0" stroke="#0000ff" stroke-width="2.3" stroke-linecap="round"/></g>
<g transform="translate(209.07,539.36) rotate(70)"><rect x="-3.6" y="-3.6" width="7.2" height="7.2" fill="#ff0000"/><path d="M0 -4.1V4.1" stroke="#0000ff" stroke-width="2.3"/><path d="M-4.5 -4.1h9.0M-4.5 4.1h9.0" stroke="#0000ff" stroke-width="2.3" stroke-linecap="round"/></g>
<g transform="translate(213.65,563.78) rotate(80)"><rect x="-3.6" y="-3.6" width="7.2" height="7.2" fill="#ff0000"/><path d="M0 -4.1V4.1" stroke="#0000ff" stroke-width="2.3"/><path d="M-4.5 -4.1h9.0M-4.5 4.1h9.0" stroke="#0000ff" stroke-width="2.3" stroke-linecap="round"/></g>
<g transform="translate(216.00,588.30) rotate(90)"><rect x="-3.6" y="-3.6" width="7.2" height="7.2" fill="#ff0000"/><path d="M0 -4.1V4.1" stroke="#0000ff" stroke-width="2.3"/><path d="M-4.5 -4.1h9.0M-4.5 4.1h9.0" stroke="#0000ff" stroke-width="2.3" stroke-linecap="round"/></g>
</g>
<line x1="438.90" y1="590.40" x2="460.03" y2="348.92" stroke="#d4d4d4" stroke-width="0.9"/>
<line x1="438.90" y1="590.40" x2="501.64" y2="356.26" stroke="#d4d4d4" stroke-width="0.9"/>
<line x1="438.90" y1="590.40" x2="541.34" y2="370.71" stroke="#d4d4d4" stroke-width="0.9"/>
<line x1="438.90" y1="590.40" x2="577.93" y2="391.84" stroke="#d4d4d4" stroke-width="0.9"/>
<line x1="438.90" y1="590.40" x2="610.30" y2="419.00" stroke="#d4d4d4" stroke-width="0.9"/>
<line x1="438.90" y1="590.40" x2="637.46" y2="451.37" stroke="#d4d4d4" stroke-width="0.9"/>
<line x1="438.90" y1="590.40" x2="658.59" y2="487.96" stroke="#d4d4d4" stroke-width="0.9"/>
<line x1="438.90" y1="590.40" x2="673.04" y2="527.66" stroke="#d4d4d4" stroke-width="0.9"/>
<line x1="438.90" y1="590.40" x2="680.38" y2="569.27" stroke="#d4d4d4" stroke-width="0.9"/>
<path d="M438.90 575.25A15.15 15.15 0 0 1 454.05 590.40" stroke="#c8c8c8" stroke-width="1" stroke-dasharray="1.2 3.2" fill="none"/>
<path d="M438.90 544.95A45.45 45.45 0 0 1 484.35 590.40" stroke="#c8c8c8" stroke-width="1" stroke-dasharray="1.2 3.2" fill="none"/>
<path d="M438.90 514.65A75.75 75.75 0 0 1 514.65 590.40" stroke="#c8c8c8" stroke-width="1" stroke-dasharray="1.2 3.2" fill="none"/>
<path d="M438.90 484.35A106.05 106.05 0 0 1 544.95 590.40" stroke="#c8c8c8" stroke-width="1" stroke-dasharray="1.2 3.2" fill="none"/>
<path d="M438.90 454.05A136.35 136.35 0 0 1 575.25 590.40" stroke="#c8c8c8" stroke-width="1" stroke-dasharray="1.2 3.2" fill="none"/>
<path d="M438.90 423.75A166.65 166.65 0 0 1 605.55 590.40" stroke="#c8c8c8" stroke-width="1" stroke-dasharray="1.2 3.2" fill="none"/>
<path d="M438.90 393.45A196.95 196.95 0 0 1 635.85 590.40" stroke="#c8c8c8" stroke-width="1" stroke-dasharray="1.2 3.2" fill="none"/>
<path d="M438.90 363.15A227.25 227.25 0 0 1 666.15 590.40" stroke="#c8c8c8" stroke-width="1" stroke-dasharray="1.2 3.2" fill="none"/>
<path d="M438.90 560.10A30.30 30.30 0 0 1 469.20 590.40" stroke="#808080" stroke-width="1.6" fill="none"/>
<path d="M438.90 529.80A60.60 60.60 0 0 1 499.50 590.40" stroke="#808080" stroke-width="1.6" fill="none"/>
<path d="M438.90 499.50A90.90 90.90 0 0 1 529.80 590.40" stroke="#808080" stroke-width="1.6" fill="none"/>
<path d="M438.90 469.20A121.20 121.20 0 0 1 560.10 590.40" stroke="#808080" stroke-width="1.6" fill="none"/>
<path d="M438.90 438.90A151.50 151.50 0 0 1 590.40 590.40" stroke="#808080" stroke-width="1.6" fill="none"/>
<path d="M438.90 408.60A181.80 181.80 0 0 1 620.70 590.40" stroke="#808080" stroke-width="1.6" fill="none"/>
<path d="M438.90 378.30A212.10 212.10 0 0 1 651.00 590.40" stroke="#808080" stroke-width="1.6" fill="none"/>
<line x1="438.90" y1="590.40" x2="480.99" y2="351.68" stroke="#000" stroke-width="1.7"/>
<line x1="438.90" y1="590.40" x2="521.81" y2="362.62" stroke="#000" stroke-width="1.7"/>
<line x1="438.90" y1="590.40" x2="560.10" y2="380.48" stroke="#000" stroke-width="1.7"/>
<line x1="438.90" y1="590.40" x2="594.71" y2="404.71" stroke="#000" stroke-width="1.7"/>
<line x1="438.90" y1="590.40" x2="624.59" y2="434.59" stroke="#000" stroke-width="1.7"/>
<line x1="438.90" y1="590.40" x2="648.82" y2="469.20" stroke="#000" stroke-width="1.7"/>
<line x1="438.90" y1="590.40" x2="666.68" y2="507.49" stroke="#000" stroke-width="1.7"/>
<line x1="438.90" y1="590.40" x2="677.62" y2="548.31" stroke="#000" stroke-width="1.7"/>
<line x1="460.03" y1="348.92" x2="459.66" y2="353.11" stroke="#000" stroke-width="1.5"/>
<line x1="501.64" y1="356.26" x2="500.55" y2="360.32" stroke="#000" stroke-width="1.5"/>
<line x1="541.34" y1="370.71" x2="539.57" y2="374.52" stroke="#000" stroke-width="1.5"/>
<line x1="577.93" y1="391.84" x2="575.53" y2="395.28" stroke="#000" stroke-width="1.5"/>
<line x1="610.30" y1="419.00" x2="607.33" y2="421.97" stroke="#000" stroke-width="1.5"/>
<line x1="637.46" y1="451.37" x2="634.02" y2="453.77" stroke="#000" stroke-width="1.5"/>
<line x1="658.59" y1="487.96" x2="654.78" y2="489.73" stroke="#000" stroke-width="1.5"/>
<line x1="673.04" y1="527.66" x2="668.98" y2="528.75" stroke="#000" stroke-width="1.5"/>
<line x1="680.38" y1="569.27" x2="676.19" y2="569.64" stroke="#000" stroke-width="1.5"/>
<path d="M438.90 590.40V348.00A242.40 242.40 0 0 1 681.30 590.40Z" stroke="#000" stroke-width="2" fill="none"/>
<text transform="translate(439.00,328.50) scale(1,1.04)" font-size="25" text-anchor="middle">0</text>
<text transform="translate(485.20,334.20) scale(1,1.04)" font-size="25" text-anchor="middle">10</text>
<text transform="translate(528.60,346.50) scale(1,1.04)" font-size="25" text-anchor="middle">20</text>
<text transform="translate(570.20,366.50) scale(1,1.04)" font-size="25" text-anchor="middle">30</text>
<text transform="translate(608.00,392.90) scale(1,1.04)" font-size="25" text-anchor="middle">40</text>
<text transform="translate(641.10,426.20) scale(1,1.04)" font-size="25" text-anchor="middle">50</text>
<text transform="translate(667.70,465.40) scale(1,1.04)" font-size="25" text-anchor="middle">60</text>
<text transform="translate(687.20,506.90) scale(1,1.04)" font-size="25" text-anchor="middle">70</text>
<text transform="translate(699.40,552.00) scale(1,1.04)" font-size="25" text-anchor="middle">80</text>
<text transform="translate(702.50,598.10) scale(1,1.04)" font-size="25" text-anchor="middle">90</text>
<clipPath id="cld"><path d="M438.9 590.4V348.0A242.4 242.4 0 0 1 681.3 590.4Z"/></clipPath>
<g clip-path="url(#cld)">
<g transform="translate(438.90,486.60) rotate(0)"><path d="M0 -3.5V3.5" stroke="#ff0000" stroke-width="2.2"/><path d="M-4.6 -3.5h9.2M-4.6 3.5h9.2" stroke="#ff0000" stroke-width="2.4" stroke-linecap="round"/><circle r="4.5" fill="#0000ff"/></g>
<g transform="translate(456.99,487.78) rotate(10)"><path d="M0 -3.5V3.5" stroke="#ff0000" stroke-width="2.2"/><path d="M-4.6 -3.5h9.2M-4.6 3.5h9.2" stroke="#ff0000" stroke-width="2.4" stroke-linecap="round"/><circle r="4.5" fill="#0000ff"/></g>
<g transform="translate(474.40,492.86) rotate(20)"><path d="M0 -3.5V3.5" stroke="#ff0000" stroke-width="2.2"/><path d="M-4.6 -3.5h9.2M-4.6 3.5h9.2" stroke="#ff0000" stroke-width="2.4" stroke-linecap="round"/><circle r="4.5" fill="#0000ff"/></g>
<g transform="translate(490.80,500.51) rotate(30)"><path d="M0 -3.5V3.5" stroke="#ff0000" stroke-width="2.2"/><path d="M-4.6 -3.5h9.2M-4.6 3.5h9.2" stroke="#ff0000" stroke-width="2.4" stroke-linecap="round"/><circle r="4.5" fill="#0000ff"/></g>
<g transform="translate(504.98,511.65) rotate(40)"><path d="M0 -3.5V3.5" stroke="#ff0000" stroke-width="2.2"/><path d="M-4.6 -3.5h9.2M-4.6 3.5h9.2" stroke="#ff0000" stroke-width="2.4" stroke-linecap="round"/><circle r="4.5" fill="#0000ff"/></g>
<g transform="translate(517.65,524.32) rotate(50)"><path d="M0 -3.5V3.5" stroke="#ff0000" stroke-width="2.2"/><path d="M-4.6 -3.5h9.2M-4.6 3.5h9.2" stroke="#ff0000" stroke-width="2.4" stroke-linecap="round"/><circle r="4.5" fill="#0000ff"/></g>
<g transform="translate(529.05,538.35) rotate(60)"><path d="M0 -3.5V3.5" stroke="#ff0000" stroke-width="2.2"/><path d="M-4.6 -3.5h9.2M-4.6 3.5h9.2" stroke="#ff0000" stroke-width="2.4" stroke-linecap="round"/><circle r="4.5" fill="#0000ff"/></g>
<g transform="translate(536.72,554.80) rotate(70)"><path d="M0 -3.5V3.5" stroke="#ff0000" stroke-width="2.2"/><path d="M-4.6 -3.5h9.2M-4.6 3.5h9.2" stroke="#ff0000" stroke-width="2.4" stroke-linecap="round"/><circle r="4.5" fill="#0000ff"/></g>
<g transform="translate(541.22,572.36) rotate(80)"><path d="M0 -3.5V3.5" stroke="#ff0000" stroke-width="2.2"/><path d="M-4.6 -3.5h9.2M-4.6 3.5h9.2" stroke="#ff0000" stroke-width="2.4" stroke-linecap="round"/><circle r="4.5" fill="#0000ff"/></g>
<g transform="translate(542.50,590.40) rotate(90)"><path d="M0 -3.5V3.5" stroke="#ff0000" stroke-width="2.2"/><path d="M-4.6 -3.5h9.2M-4.6 3.5h9.2" stroke="#ff0000" stroke-width="2.4" stroke-linecap="round"/><circle r="4.5" fill="#0000ff"/></g>
<g transform="translate(438.90,423.60) rotate(0)"><rect x="-3.6" y="-3.6" width="7.2" height="7.2" fill="#ff0000"/><path d="M0 -4.1V4.1" stroke="#0000ff" stroke-width="2.3"/><path d="M-4.5 -4.1h9.0M-4.5 4.1h9.0" stroke="#0000ff" stroke-width="2.3" stroke-linecap="round"/></g>
<g transform="translate(469.05,419.44) rotate(10)"><rect x="-3.6" y="-3.6" width="7.2" height="7.2" fill="#ff0000"/><path d="M0 -4.1V4.1" stroke="#0000ff" stroke-width="2.3"/><path d="M-4.5 -4.1h9.0M-4.5 4.1h9.0" stroke="#0000ff" stroke-width="2.3" stroke-linecap="round"/></g>
<g transform="translate(495.09,436.01) rotate(20)"><rect x="-3.6" y="-3.6" width="7.2" height="7.2" fill="#ff0000"/><path d="M0 -4.1V4.1" stroke="#0000ff" stroke-width="2.3"/><path d="M-4.5 -4.1h9.0M-4.5 4.1h9.0" stroke="#0000ff" stroke-width="2.3" stroke-linecap="round"/></g>
<g transform="translate(520.60,448.89) rotate(30)"><rect x="-3.6" y="-3.6" width="7.2" height="7.2" fill="#ff0000"/><path d="M0 -4.1V4.1" stroke="#0000ff" stroke-width="2.3"/><path d="M-4.5 -4.1h9.0M-4.5 4.1h9.0" stroke="#0000ff" stroke-width="2.3" stroke-linecap="round"/></g>
<g transform="translate(539.82,470.13) rotate(40)"><rect x="-3.6" y="-3.6" width="7.2" height="7.2" fill="#ff0000"/><path d="M0 -4.1V4.1" stroke="#0000ff" stroke-width="2.3"/><path d="M-4.5 -4.1h9.0M-4.5 4.1h9.0" stroke="#0000ff" stroke-width="2.3" stroke-linecap="round"/></g>
<g transform="translate(555.26,492.76) rotate(50)"><rect x="-3.6" y="-3.6" width="7.2" height="7.2" fill="#ff0000"/><path d="M0 -4.1V4.1" stroke="#0000ff" stroke-width="2.3"/><path d="M-4.5 -4.1h9.0M-4.5 4.1h9.0" stroke="#0000ff" stroke-width="2.3" stroke-linecap="round"/></g>
<g transform="translate(569.93,514.75) rotate(60)"><rect x="-3.6" y="-3.6" width="7.2" height="7.2" fill="#ff0000"/><path d="M0 -4.1V4.1" stroke="#0000ff" stroke-width="2.3"/><path d="M-4.5 -4.1h9.0M-4.5 4.1h9.0" stroke="#0000ff" stroke-width="2.3" stroke-linecap="round"/></g>
<g transform="translate(585.12,537.18) rotate(70)"><rect x="-3.6" y="-3.6" width="7.2" height="7.2" fill="#ff0000"/><path d="M0 -4.1V4.1" stroke="#0000ff" stroke-width="2.3"/><path d="M-4.5 -4.1h9.0M-4.5 4.1h9.0" stroke="#0000ff" stroke-width="2.3" stroke-linecap="round"/></g>
<g transform="translate(589.97,563.76) rotate(80)"><rect x="-3.6" y="-3.6" width="7.2" height="7.2" fill="#ff0000"/><path d="M0 -4.1V4.1" stroke="#0000ff" stroke-width="2.3"/><path d="M-4.5 -4.1h9.0M-4.5 4.1h9.0" stroke="#0000ff" stroke-width="2.3" stroke-linecap="round"/></g>
<g transform="translate(608.10,590.40) rotate(90)"><rect x="-3.6" y="-3.6" width="7.2" height="7.2" fill="#ff0000"/><path d="M0 -4.1V4.1" stroke="#0000ff" stroke-width="2.3"/><path d="M-4.5 -4.1h9.0M-4.5 4.1h9.0" stroke="#0000ff" stroke-width="2.3" stroke-linecap="round"/></g>
</g>
<g font-weight="bold" font-size="19.6">
<text x="30.8" y="361.2" font-size="20.5">(c)</text>
<text x="40.6" y="389.9">Convex</text>
<text x="42.5" y="466.2">Concave</text>
<text x="396.0" y="367.6" font-size="20.5">(d)</text>
<text x="405.9" y="406.0">Convex</text>
<text x="406.2" y="474.2">Concave</text>
</g>
<g font-size="23.4">
<text x="96" y="622.0">Δ<tspan font-style="italic">R</tspan> / <tspan font-style="italic">R</tspan></text>
<text x="480.3" y="622.0">Δ<tspan font-style="italic">R</tspan> / <tspan font-style="italic">R</tspan></text>
</g>
</svg>
</body></html>
